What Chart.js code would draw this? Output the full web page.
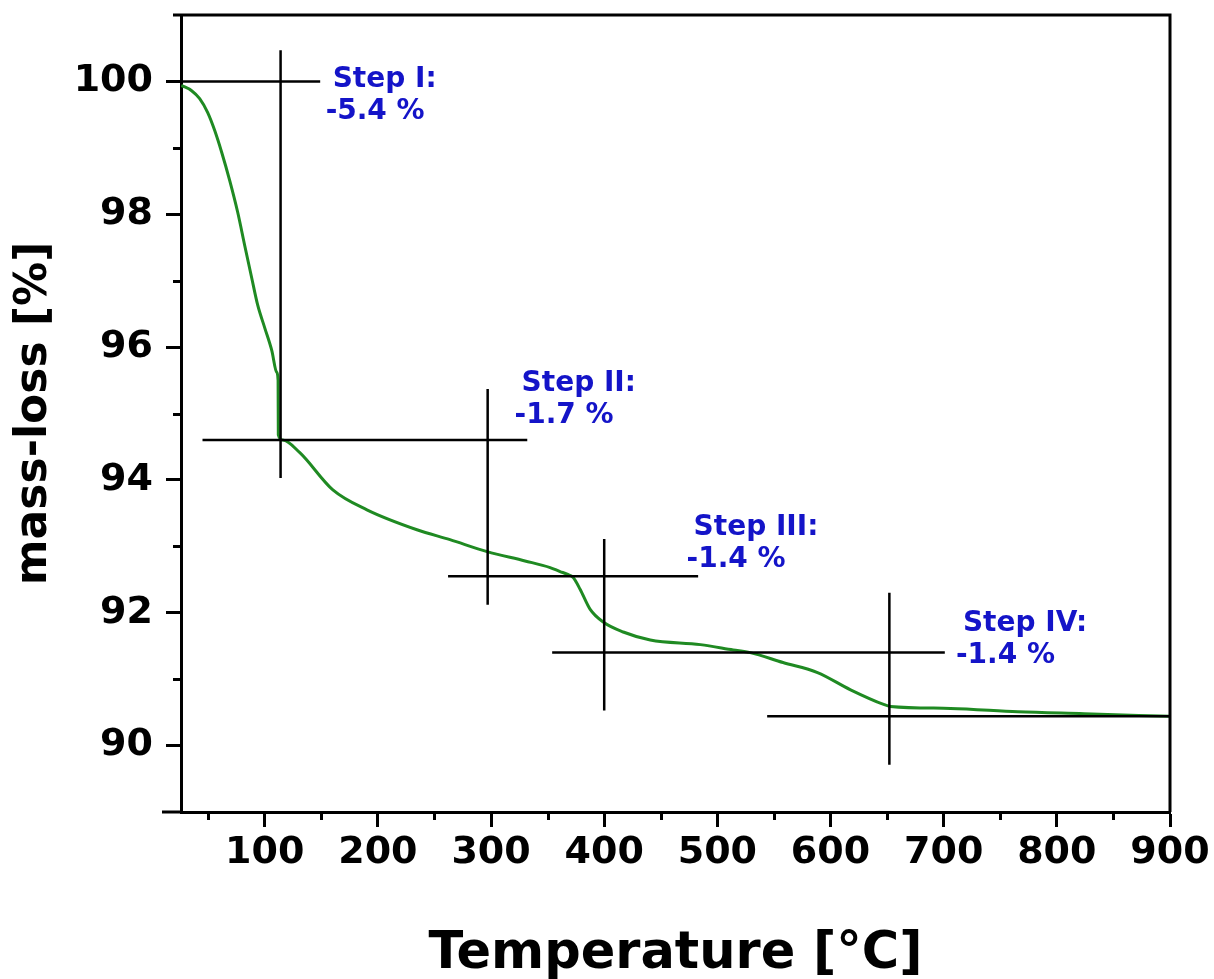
<!DOCTYPE html>
<html>
<head>
<meta charset="utf-8">
<title>TGA mass-loss</title>
<script src="https://cdn.jsdelivr.net/npm/chart.js@4.4.1/dist/chart.umd.min.js"></script>
<style>
  html, body { margin: 0; padding: 0; background: #ffffff; }
  #wrap { width: 1214px; height: 979px; position: relative; }
</style>
</head>
<body>
<div id="wrap"><canvas id="tga" width="1214" height="979"></canvas></div>
<script>
// Thermogravimetric curve: temperature (°C) and remaining mass (%)
const temperature = [26.3, 35.4, 42.5, 49.6, 55.8, 62.0, 69.0, 76.1, 82.3, 88.5, 93.8, 100, 106.2, 110.6, 111.8, 112.0, 115.9, 131, 160.2, 190.3, 234.5, 263.7, 296.5, 330, 352.2, 361, 367.3, 372.6, 378.8, 387.6, 399.1, 416.8, 440.7, 485, 514, 529, 558, 588.5, 617.7, 646.9, 653, 706, 765.5, 824, 900];
const massPercent = [99.94, 99.86, 99.74, 99.53, 99.26, 98.93, 98.51, 98.03, 97.53, 97.04, 96.63, 96.29, 95.95, 95.62, 95.50, 94.68, 94.60, 94.41, 93.85, 93.55, 93.25, 93.10, 92.92, 92.78, 92.68, 92.62, 92.58, 92.53, 92.35, 92.05, 91.86, 91.71, 91.59, 91.52, 91.44, 91.40, 91.25, 91.10, 90.84, 90.62, 90.59, 90.56, 90.51, 90.48, 90.44];

// Tangent levels (horizontal construction lines)
const levelMass = [100, 94.6, 92.55, 91.40, 90.44];
const levelFrom = [26, 45, 262, 354, 544];
const levelTo = [149, 332, 483, 701, 900];

// Step markers (vertical construction lines)
const markTemp = [114, 297, 400, 652];
const markTop = [100.47, 95.37, 93.11, 92.3];
const markBottom = [94.03, 92.12, 90.53, 89.71];

// Step annotations and their anchor (left edge / baseline of the first line)
const stepNames = ['Step I:', 'Step II:', 'Step III:', 'Step IV:'];
const stepLoss = ['-5.4 %', '-1.7 %', '-1.4 %', '-1.4 %'];
const stepLabelTemp = [160, 327, 479, 717];
const stepLabelMass = [99.91, 95.34, 93.17, 91.73];

// Axis ticks
const tempTicks = [100, 200, 300, 400, 500, 600, 700, 800, 900];
const tempMinorTicks = [50, 150, 250, 350, 450, 550, 650, 750, 850];
const massTicks = [90, 92, 94, 96, 98, 100];
const massMinorTicks = [91, 93, 95, 97, 99];

const FONT = '"DejaVu Sans", "Liberation Sans", Arial, sans-serif';
const CURVE_COLOR = '#1f8a22';
const LABEL_COLOR = '#1414c8';

const datasets = [];
datasets.push({
  label: 'TGA',
  data: temperature.map((t, i) => ({ x: t, y: massPercent[i] })),
  borderColor: CURVE_COLOR,
  borderWidth: 3,
  pointRadius: 0,
  showLine: true,
  cubicInterpolationMode: 'monotone',
  fill: false,
  order: 2
});
levelMass.forEach((m, i) => {
  datasets.push({
    label: 'level' + i,
    data: [{ x: levelFrom[i], y: m }, { x: levelTo[i], y: m }],
    borderColor: '#000000',
    borderWidth: 2.5,
    pointRadius: 0,
    showLine: true,
    order: 1
  });
});
markTemp.forEach((t, i) => {
  datasets.push({
    label: 'mark' + i,
    data: [{ x: t, y: markTop[i] }, { x: t, y: markBottom[i] }],
    borderColor: '#000000',
    borderWidth: 2.5,
    pointRadius: 0,
    showLine: true,
    order: 1
  });
});

// Short minor ticks on both axes
const minorTicksPlugin = {
  id: 'minorTicks',
  afterDraw(chart) {
    const { ctx, chartArea, scales } = chart;
    ctx.save();
    ctx.strokeStyle = '#000';
    ctx.lineWidth = 3;
    ctx.beginPath();
    tempMinorTicks.forEach(v => {
      const px = Math.round(scales.x.getPixelForValue(v)) + 0.5;
      ctx.moveTo(px, chartArea.bottom);
      ctx.lineTo(px, chartArea.bottom + 8);
    });
    massMinorTicks.forEach(v => {
      const py = Math.round(scales.y.getPixelForValue(v)) + 0.5;
      ctx.moveTo(chartArea.left, py);
      ctx.lineTo(chartArea.left - 8, py);
    });
    ctx.stroke();
    ctx.restore();
  }
};

// Closing frame: top and right edges, plus the short axis overhangs
const framePlugin = {
  id: 'frame',
  afterDraw(chart) {
    const { ctx, chartArea } = chart;
    ctx.save();
    ctx.strokeStyle = '#000';
    ctx.lineWidth = 3;
    ctx.beginPath();
    ctx.moveTo(chartArea.left - 8, chartArea.top);
    ctx.lineTo(chartArea.right, chartArea.top);
    ctx.lineTo(chartArea.right, chartArea.bottom);
    ctx.moveTo(chartArea.left - 19, chartArea.bottom);
    ctx.lineTo(chartArea.left, chartArea.bottom);
    ctx.stroke();
    ctx.restore();
  }
};

// Step annotations positioned through the scales
const stepLabelPlugin = {
  id: 'stepLabels',
  afterDatasetsDraw(chart) {
    const { ctx, scales } = chart;
    ctx.save();
    ctx.fillStyle = LABEL_COLOR;
    ctx.font = 'bold 28px ' + FONT;
    ctx.textAlign = 'left';
    ctx.textBaseline = 'alphabetic';
    stepNames.forEach((name, i) => {
      const px = scales.x.getPixelForValue(stepLabelTemp[i]);
      const py = scales.y.getPixelForValue(stepLabelMass[i]);
      ctx.fillText(name, px, py);
      ctx.fillText(stepLoss[i], px - 7, py + 32);
    });
    ctx.restore();
  }
};

new Chart(document.getElementById('tga'), {
  type: 'scatter',
  data: { datasets },
  plugins: [minorTicksPlugin, framePlugin, stepLabelPlugin],
  options: {
    responsive: false,
    devicePixelRatio: 1,
    animation: false,
    layout: { padding: { top: 15, right: 44, left: 0, bottom: 0 } },
    plugins: {
      legend: { display: false },
      tooltip: { enabled: false }
    },
    scales: {
      x: {
        type: 'linear',
        min: 26,
        max: 900,
        afterBuildTicks: (scale) => { scale.ticks = tempTicks.map(v => ({ value: v })); },
        afterFit: (scale) => {
          scale.height = 167;
          scale.paddingLeft = 0;
          scale.paddingRight = 0;
        },
        grid: {
          drawOnChartArea: false,
          drawTicks: true,
          tickLength: 15,
          tickWidth: 3,
          tickColor: '#000'
        },
        border: { display: true, color: '#000', width: 3 },
        ticks: {
          color: '#000',
          padding: 3,
          maxRotation: 0,
          autoSkip: false,
          font: { family: FONT, size: 38, weight: 'bold' }
        },
        title: {
          display: true,
          text: 'Temperature [°C]',
          color: '#000',
          font: { family: FONT, size: 51, weight: 'bold' },
          padding: { top: 0, bottom: -6 }
        }
      },
      y: {
        type: 'linear',
        min: 89,
        max: 101,
        afterBuildTicks: (scale) => { scale.ticks = massTicks.map(v => ({ value: v })); },
        afterFit: (scale) => {
          scale.width = 181;
          scale.paddingTop = 0;
          scale.paddingBottom = 0;
        },
        grid: {
          drawOnChartArea: false,
          drawTicks: true,
          tickLength: 15,
          tickWidth: 3,
          tickColor: '#000'
        },
        border: { display: true, color: '#000', width: 3 },
        ticks: {
          color: '#000',
          padding: 13,
          autoSkip: false,
          font: { family: FONT, size: 38, weight: 'bold' }
        },
        title: {
          display: true,
          text: 'mass-loss [%]',
          color: '#000',
          font: { family: FONT, size: 44, weight: 'bold' },
          padding: { top: 8, bottom: 0 }
        }
      }
    }
  }
});
</script>
</body>
</html>
